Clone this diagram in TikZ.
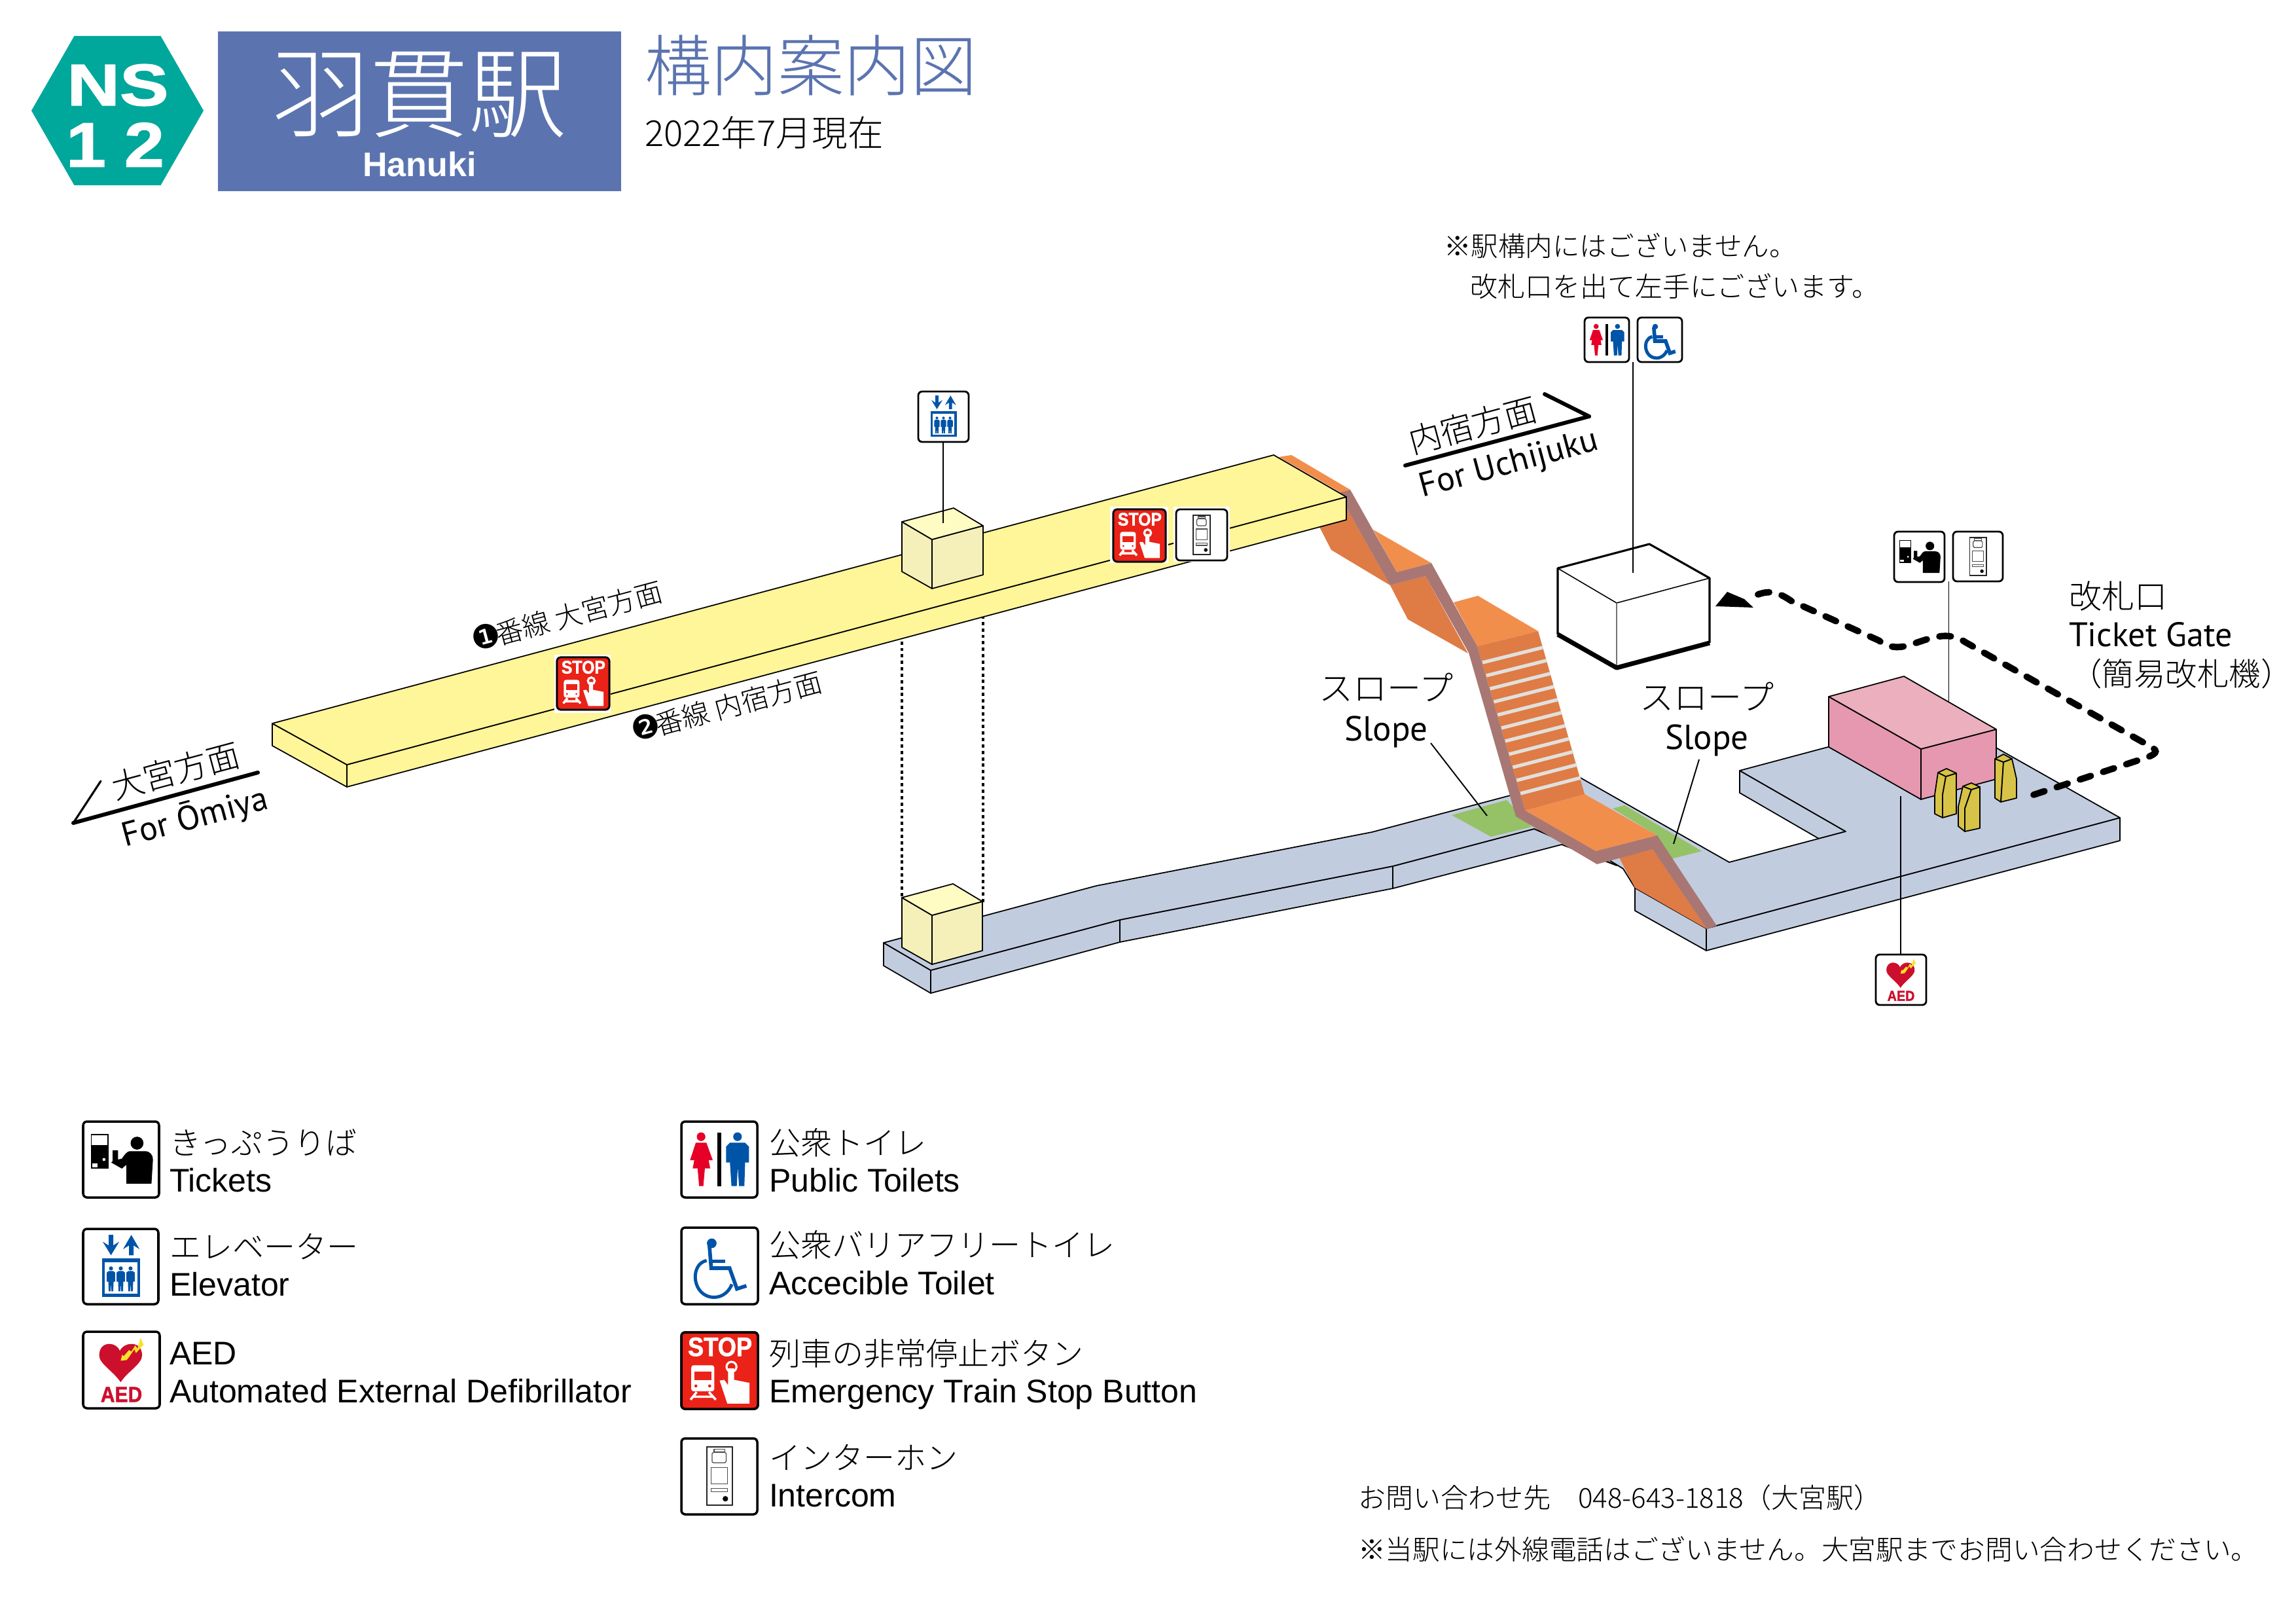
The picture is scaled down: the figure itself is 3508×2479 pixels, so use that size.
\documentclass[tikz,border=0pt]{standalone}
\usepackage{fontspec}
\setmainfont{Liberation Sans}
\newfontfamily\jpf{Noto Sans CJK JP Light}
\newfontfamily\mrf{PT Sans}
\newfontfamily\djf{DejaVu Sans}
\newfontfamily\heavyf[BoldFeatures={FakeBold=1.5}]{Liberation Sans}
\newcommand\pxf[1]{\fontsize{\fpeval{#1*0.28453}}{\fpeval{#1*0.34}}\selectfont}
\definecolor{teal1}{HTML}{00A79B}
\definecolor{navy1}{HTML}{5B74B0}
\definecolor{yel1}{HTML}{FFF599}
\definecolor{box1}{HTML}{FEFBC3}
\definecolor{box2}{HTML}{F5EFBA}
\definecolor{blu1}{HTML}{C2CCDF}
\definecolor{gre1}{HTML}{95C266}
\definecolor{ol}{HTML}{F28E4C}
\definecolor{od}{HTML}{DF7B45}
\definecolor{brn}{HTML}{A87773}
\definecolor{stp}{HTML}{E0E0DC}
\definecolor{pk1}{HTML}{EBAFBE}
\definecolor{pk2}{HTML}{E598AF}
\definecolor{gat}{HTML}{D6C347}
\definecolor{icb}{HTML}{0054A7}
\definecolor{icr}{HTML}{E60027}
\definecolor{aedr}{HTML}{CC0F2D}
\definecolor{aedy}{HTML}{F6E229}
\definecolor{stpr}{HTML}{EA2217}
\tikzset{
  edge/.style={draw=black,line width=0.5pt,line join=round},
  leader/.style={draw=black,line width=0.55pt},
  lbl/.style={inner sep=0pt,outer sep=0pt,align=left,text=black},
  jp/.style={font=\jpf\pxf{#1},text height={#1*0.88*0.28453pt},text depth={#1*0.12*0.28453pt}},
  mr/.style={font=\mrf\pxf{#1},text height={#1*0.72*0.28453pt},text depth=0pt},
  ar/.style={font=\pxf{50},text height=10.2pt,text depth=0pt},
  route/.style={line width=2.8pt,line cap=round,dash pattern=on 5pt off 5.6pt},
  dirline/.style={line width=1.7pt,line cap=round,line join=round},
  dirtail/.style={line width=0.9pt,line cap=round,line join=round},
  dots/.style={line width=1pt,dash pattern=on 1.4pt off 1.4pt},
  iconframe/.style={draw=black,fill=white,rounded corners=1.7pt},
  icontxt/.style={inner sep=0pt,outer sep=0pt,transform shape},
}
\newcommand\icTickets{
  \fill (10,16.5) rectangle (33.5,62);
  \fill[white] (11.5,18.5) rectangle (32,31);
  \fill[white] (12,55.5) rectangle (19,60);
  \fill[white] (27.5,50) circle (2);
  \fill (71,28.5) circle (8.5);
  \fill (57,82) -- (90,82) -- (92,50) .. controls (92,44) and (88,39) .. (81,39) -- (62,39) .. controls (58,39) and (55,43) .. (51,49) -- (46,50) -- (46,38) -- (39,38) -- (39,52) -- (37,54) -- (51,62) -- (57,57) -- cycle;
}
\newcommand\icPerson[1]{
  \fill[icb] (#1,52.5) circle (2.7);
  \fill[icb] (#1-5.5,58) -- (#1-3,56) -- (#1+3,56) -- (#1+5.5,58) -- (#1+5.5,70) -- (#1+3.5,70) -- (#1+3,83) -- (#1+.6,83) -- (#1,72) -- (#1-.6,83) -- (#1-3,83) -- (#1-3.5,70) -- (#1-5.5,70) -- cycle;
}
\newcommand\icElevator{
  \fill[icb] (34,8) -- (40,8) -- (40,22) -- (48,17) -- (37,35) -- (26,17) -- (34,22) -- cycle;
  \fill[icb] (61,35) -- (67,35) -- (67,22) -- (75,27) -- (64,8) -- (53,27) -- (61,22) -- cycle;
  \fill[icb] (25,39) rectangle (76,90);
  \fill[white] (29,44) rectangle (72,86);
  \icPerson{37}\icPerson{50}\icPerson{63}
}
\newcommand\icAED{
  \fill[aedr] (49,66) .. controls (40,52) and (21,42) .. (21,31) .. controls (21,20) and (28,16) .. (34,16) .. controls (41,16) and (46,20) .. (48,25) .. controls (51,19) and (57,16) .. (63,16) .. controls (72,16) and (77,22) .. (77,31) .. controls (77,42) and (58,52) .. (49,66) -- cycle;
  \fill[aedy] (75,8) -- (79,17) -- (69,28) -- (67,23) -- (60,33) -- (57,37) -- (49,38) -- (51,30) -- (53,32) -- (60,24) -- (63,26) -- (68,18) -- (71,22) -- cycle;
  \node[icontxt,text=aedr,font=\heavyf\bfseries\pxf{27}] (t) at (50,82) {\scalebox{.95}[1.05]{AED}};
}
\newcommand\icToilets{
  \fill (47.4,15) rectangle (53,85);
  \fill[icr] (26,20) circle (5.7);
  \fill[icr] (19,28) -- (33,28) -- (41.4,51) -- (36,51) -- (38,61.7) -- (31,61.7) -- (29,85) -- (23.4,85) -- (21.4,61.7) -- (15,61.7) -- (17,51) -- (11.4,51) -- cycle;
  \fill[icb] (74,20) circle (5.7);
  \fill[icb] (64,28) -- (84,28) -- (89,33) -- (89,54) -- (84,54) -- (83,85) -- (76,85) -- (74.3,60) -- (73,85) -- (66,85) -- (64,54) -- (59,54) -- (59,33) -- cycle;
}
\newcommand\icWheel{
  \fill[icb] (39.7,20.5) circle (6.3);
  \draw[icb,line width=1.6pt,line join=miter] (36.5,22) -- (39,53) -- (63,53) -- (72.6,80) -- (85,76);
  \draw[icb,line width=1.4pt] (39,44) -- (57,44);
  \draw[icb,line width=1.4pt] (33,43) .. controls (10,48) and (14,91) .. (43,91) .. controls (55,91) and (63,82) .. (66,74);
}
\newcommand\icStop{
  \draw[iconframe,fill=stpr] (0,0) rectangle (100,100);
  \node[icontxt,text=white,font=\heavyf\bfseries\pxf{31}] (t) at (50.5,19) {\scalebox{1}[1.12]{STOP}};
  \fill[white,rounded corners=1pt] (13,43) rectangle (43,77);
  \fill[stpr] (17,51) rectangle (39,62);
  \fill[stpr] (19,70) circle (2) (37,70) circle (2);
  \draw[white,line width=1pt] (20,78) -- (12,88) (36,78) -- (45,88) (16,84) -- (41,84);
  \fill[white] (50,63) -- (56,62) -- (61,69) -- (61,47) -- (69,47) -- (69,62) -- (89,66) -- (89,93) -- (60,93) -- cycle;
  \draw[white,line width=0.9pt] (65.5,45) circle (6.5);
}
\newcommand\icIntercom{
  \draw[black!85,line width=0.5pt] (33.4,11.5) rectangle (67,88);
  \draw[black!70,line width=0.35pt] (43,14) rectangle (57,17.5);
  \draw[black!70,line width=0.35pt,rounded corners=0.5pt] (40.5,18.5) rectangle (59,32);
  \draw[black!70,line width=0.35pt] (39,38.5) rectangle (61,60);
  \draw[black!70,line width=0.35pt] (39,66) rectangle (61,70.5);
  \fill (58,79.5) circle (3.6);
}
% \myicon{name}{type}{x0}{y0}{size}{frame width}
\newcommand\myicon[6]{
  \begin{scope}[shift={(#3,#4)},xscale=#5/100,yscale=#5/100,name prefix=#1-,
     iconframe/.append style={line width=#6}]
    \draw[iconframe] (0,0) rectangle (100,100);
    \csname ic#2\endcsname
  \end{scope}
}
\begin{document}
\begin{tikzpicture}[x=0.01cm,y=-0.01cm]
\useasboundingbox (0,0) rectangle (3508,2479);
\fill[white] (0,0) rectangle (3508,2479);
% ---------- header
\fill[teal1] (113.5,55) -- (245.5,55) -- (311,169) -- (245.5,283) -- (113.5,283) -- (48,169) -- cycle;
\node[inner sep=0pt,text=white,font=\heavyf\bfseries\pxf{90}] (nsmark) at (180,130) {\scalebox{1.24}[1]{NS}};
\node[inner sep=0pt,text=white,font=\heavyf\bfseries\pxf{96}] (nomark) at (176,221) {\scalebox{1.14}[1]{1\kern 7pt 2}};
\fill[navy1] (333,48) rectangle (949,292);
\node[inner sep=0pt,text=white,font=\jpf\pxf{150}] (title) at (641,145) {羽貫駅};
\node[inner sep=0pt,text=white,font=\bfseries\pxf{52}] (titleen) at (641,251) {Hanuki};
\node[lbl,anchor=west,text=navy1,jp=101.5] (guide) at (985,100) {構内案内図};
\node[lbl,anchor=west,jp=54.6] (date) at (985,203) {2022年7月現在};
% ---------- notes near toilets
\node[lbl,anchor=west,jp=41.5] (note1) at (2206,376) {※駅構内にはございません。};
\node[lbl,anchor=west,jp=42] (note2) at (2246,438) {改札口を出て左手にございます。};
% ---------- dotted shaft
\coordinate (dl1t) at (1378,960);
\coordinate (dl1b) at (1378,1372);
\coordinate (dl2t) at (1502,940);
\coordinate (dl2b) at (1502,1378);
\draw[dots] (dl1t) -- (dl1b);
\draw[dots] (dl2t) -- (dl2b);
% ---------- concourse
\path[edge,fill=blu1] (1350,1440) -- (1422,1482) -- (1422,1517) -- (1350,1475) -- cycle;
\path[edge,fill=blu1] (1422,1482) -- (1711,1405) -- (1711,1439) -- (1422,1517) -- cycle;
\path[edge,fill=blu1] (1711,1405) -- (2128,1323) -- (2128,1357) -- (1711,1439) -- cycle;
\path[edge,fill=blu1] (2128,1323) -- (2344,1266) -- (2470,1322) -- (2386,1290) -- (2128,1357) -- cycle;
\path[edge,fill=blu1] (2658,1177) -- (2820,1270) -- (2779,1281) -- (2658,1211) -- cycle;
\path[edge,fill=blu1] (2498,1356) -- (2607,1418) -- (2607,1452) -- (2498,1391) -- cycle;
\path[edge,fill=blu1] (2607,1418) -- (3239,1249) -- (3239,1284) -- (2607,1452) -- cycle;
\path[edge,fill=blu1] (1350,1440) -- (1675,1353) -- (2096,1271) -- (2413,1187) -- (2642,1317) -- (2820,1270) -- (2658,1177) -- (2793,1141) -- (3000,1114) -- (3239,1249) -- (2607,1418) -- (2498,1356) -- (2480,1327) -- (2459,1314) -- (2344,1266) -- (2128,1323) -- (1711,1405) -- (1422,1482) -- cycle;
% slopes
\fill[gre1] (2218,1245) -- (2302,1222) -- (2340,1263) -- (2278,1278) -- cycle;
\fill[gre1] (2464,1235) -- (2482,1230) -- (2600,1300) -- (2553,1312) -- (2532,1276) -- cycle;
% lower lift box
\path[edge,fill=box2] (1378,1371) -- (1424,1398) -- (1424,1473) -- (1378,1447) -- cycle;
\path[edge,fill=box2] (1424,1398) -- (1501,1377) -- (1501,1452) -- (1424,1473) -- cycle;
\path[edge,fill=box1] (1378,1371) -- (1456,1350) -- (1501,1377) -- (1424,1398) -- cycle;
% ---------- stairs
\fill[od] (2015,803) -- (2034,840) -- (2124,894) -- (2057,775) -- (2057,794) -- cycle;
\fill[od] (2124,894) -- (2151,946) -- (2243,998) -- (2178,880) -- cycle;
\fill[od] (2474,1310) -- (2498,1356) -- (2608,1419) -- (2525,1297) -- cycle;
\fill[ol] (1954,698) -- (1973,695) -- (2063,748) -- (2048,752) -- cycle;
\fill[ol] (2098,809) -- (2187,860) -- (2134,874) -- cycle;
\fill[ol] (2221,920) -- (2258,910) -- (2350,964) -- (2257,987) -- cycle;
\fill[ol] (2330,1238) -- (2421,1213) -- (2532,1276) -- (2438,1300) -- cycle;
\fill[od] (2257,987) -- (2350,964) -- (2421,1213) -- (2330,1238) -- cycle;
\foreach \i in {0,...,10}{
  \draw[stp,line width=1.5pt] (2265+5.8*\i,1012+20*\i) -- (2357+5.8*\i,989+19.9*\i);
}
\fill[brn] (2063,748) -- (2134,874) -- (2187,860) -- (2257,987) -- (2330,1238) -- (2438,1300) -- (2532,1276) -- (2623,1414) -- (2608,1419) -- (2525,1297) -- (2440,1320) -- (2316,1247) -- (2244,997) -- (2178,880) -- (2124,894) -- (2057,775) -- (2048,752) -- cycle;
% ---------- platform
\path[edge,fill=yel1] (416,1105) -- (530,1168) -- (530,1202) -- (416,1139) -- cycle;
\path[edge,fill=yel1] (530,1168) -- (2057,759) -- (2057,794) -- (530,1202) -- cycle;
\path[edge,fill=yel1] (416,1105) -- (1946,695) -- (2057,759) -- (530,1168) -- cycle;
% upper lift box
\path[edge,fill=box2] (1378,797) -- (1424,824) -- (1424,899) -- (1378,873) -- cycle;
\path[edge,fill=box2] (1424,824) -- (1502,803) -- (1502,878) -- (1424,899) -- cycle;
\path[edge,fill=box1] (1378,797) -- (1457,776) -- (1502,803) -- (1424,824) -- cycle;
% ---------- ticket gate
\path[edge,fill=pk2] (2794,1064) -- (2935,1144) -- (2935,1221) -- (2794,1141) -- cycle;
\path[edge,fill=pk2] (2935,1144) -- (3050,1114) -- (3050,1190) -- (2935,1221) -- cycle;
\path[edge,fill=pk1] (2794,1064) -- (2909,1033) -- (3050,1114) -- (2935,1144) -- cycle;
% gates
\path[edge,fill=gat] (2961,1180) -- (2973,1186) -- (2968,1214) -- (2968,1249) -- (2956,1243) -- (2956,1214) -- cycle;
\path[edge,fill=gat] (2973,1186) -- (2989,1181) -- (2989,1243) -- (2968,1249) -- (2968,1214) -- cycle;
\path[edge,fill=gat] (2961,1180) -- (2974,1174) -- (2989,1181) -- (2973,1186) -- cycle;
\path[edge,fill=gat] (2999,1201) -- (3012,1206) -- (3002,1235) -- (3002,1270) -- (2992,1262) -- (2992,1232) -- cycle;
\path[edge,fill=gat] (3012,1206) -- (3025,1202) -- (3025,1265) -- (3002,1270) -- (3002,1235) -- cycle;
\path[edge,fill=gat] (2999,1201) -- (3012,1196) -- (3025,1202) -- (3012,1206) -- cycle;
\path[edge,fill=gat] (3048,1159) -- (3061,1164) -- (3057,1225) -- (3048,1219) -- cycle;
\path[edge,fill=gat] (3061,1164) -- (3074,1159) -- (3081,1190) -- (3081,1219) -- (3057,1225) -- cycle;
\path[edge,fill=gat] (3048,1159) -- (3061,1152) -- (3074,1159) -- (3061,1164) -- cycle;
% ---------- toilet box
\fill[white] (2380,868) -- (2520,831) -- (2612,883) -- (2612,982) -- (2470,1020) -- (2380,969) -- cycle;
\draw[line width=0.45pt] (2380,868) -- (2470,921) -- (2612,883);
\draw[line width=0.45pt,black!55] (2470,921) -- (2470,1020);
\draw[line width=0.9pt,line join=round] (2380,969) -- (2380,868) -- (2520,831) -- (2612,883) -- (2612,982);
\draw[line width=2pt,line join=round] (2380,969) -- (2470,1020) -- (2612,982);
% ---------- route
\draw[route] (3107,1214) -- (3280,1157) .. controls (3298,1150) and (3298,1146) .. (3280,1137) -- (3003,981) .. controls (2975,962) and (2950,975) .. (2915,986) .. controls (2895,991) and (2885,988) .. (2870,978) -- (2737,918) .. controls (2712,901) and (2700,902) .. (2678,911);
\fill (2621,926) -- (2639,904) -- (2665,915) -- (2679,928) -- cycle;
% ---------- icons on map
\myicon{mapelev}{Elevator}{1403}{598}{77}{0.8pt}
\coordinate (elevdrop) at (1441,675);
\coordinate (elevend) at (1441,799);
\draw[leader] (elevdrop) -- (elevend);
\fill[white] (1696,774) rectangle (1785,860);
\fill[white] (1793,774) rectangle (1879,858);
\fill[white] (847,1000) rectangle (933,1089);
\myicon{mapstopa}{Stop}{851}{1004}{80}{0.8pt}
\myicon{mapstopb}{Stop}{1701}{778}{80}{0.8pt}
\myicon{mapinta}{Intercom}{1797}{778}{78}{0.8pt}
\myicon{maptoil}{Toilets}{2421}{485}{68}{0.8pt}
\myicon{mapwc}{Wheel}{2502}{485}{68}{0.8pt}
\coordinate (wcdrop) at (2495,553);
\coordinate (wcend) at (2495,875);
\draw[leader] (wcdrop) -- (wcend);
\myicon{maptick}{Tickets}{2894}{812}{77}{0.8pt}
\myicon{mapintb}{Intercom}{2984}{812}{76}{0.8pt}
\coordinate (tickdrop) at (2977.5,888);
\coordinate (tickend) at (2977.5,1071);
\draw[leader] (tickdrop) -- (tickend);
\myicon{mapaed}{AED}{2866}{1458}{77}{0.8pt}
\coordinate (aeddrop) at (2904,1216);
\coordinate (aedend) at (2904,1458);
\draw[leader] (aeddrop) -- (aedend);
% ---------- slope labels
\node[lbl,align=center,jp=52] (sl1j) at (2118,1051) {スロープ};
\node[lbl,align=center,mr=53] (sl1e) at (2118,1112) {Slope};
\node[lbl,align=center,jp=52] (sl2j) at (2608,1065) {スロープ};
\node[lbl,align=center,mr=53] (sl2e) at (2608,1125) {Slope};
\coordinate (sl1a) at (2186,1135);
\coordinate (sl1b) at (2272,1246);
\coordinate (sl2a) at (2596,1160);
\coordinate (sl2b) at (2557,1289);
\draw[leader] (sl1a) -- (sl1b);
\draw[leader] (sl2a) -- (sl2b);
% ---------- gate label
\node[lbl,anchor=west,jp=50] (g1) at (3161,910) {改札口};
\node[lbl,anchor=west,mr=52] (g2) at (3161,969) {Ticket Gate};
\node[lbl,anchor=west,jp=48.5] (g3) at (3163,1029) {（簡易改札機）};
% ---------- direction labels
\coordinate (omA) at (394,1180);
\coordinate (omB) at (112,1257);
\coordinate (omC) at (154,1193);
\draw[dirtail] (omC) -- (omB);
\draw[dirline] (omA) -- (omB);
\node[lbl,rotate=15,jp=50] (om1) at (268,1177) {大宮方面};
\node[lbl,rotate=15,mr=52] (om2) at (297,1246) {For Ōmiya};
\coordinate (uA) at (2147,711);
\coordinate (uB) at (2428,636);
\coordinate (uC) at (2360,602);
\draw[dirline] (uA) -- (uB);
\draw[dirline] (uB) -- (uC);
\node[lbl,rotate=15,jp=50] (u1) at (2250,649) {内宿方面};
\node[lbl,rotate=15,mr=52] (u2) at (2304,705) {For Uchijuku};
\node[lbl,rotate=15,font=\jpf\pxf{42}] (tr1) at (866,940) {{\djf\pxf{50}❶}\kern-2pt 番線 大宮方面};
\node[lbl,rotate=15,font=\jpf\pxf{42}] (tr2) at (1110,1078) {{\djf\pxf{50}❷}\kern-2pt 番線 内宿方面};
% ---------- legend
\myicon{l1}{Tickets}{127}{1713}{116}{1pt}
\myicon{l2}{Elevator}{127}{1877}{115}{1pt}
\myicon{l3}{AED}{127}{2034}{117}{1pt}
\myicon{r1}{Toilets}{1041}{1713}{116}{1pt}
\myicon{r2}{Wheel}{1041}{1875}{117}{1pt}
\myicon{r3}{Stop}{1041}{2035}{117}{1pt}
\myicon{r4}{Intercom}{1041}{2197}{116}{1pt}
\node[lbl,anchor=west,jp=48] (a1) at (259,1745) {きっぷうりば};
\node[lbl,anchor=west,ar] (a2) at (259,1803) {Tickets};
\node[lbl,anchor=west,jp=48] (b1) at (259,1904) {エレベーター};
\node[lbl,anchor=west,ar] (b2) at (259,1962) {Elevator};
\node[lbl,anchor=west,ar] (c1) at (259,2067) {AED};
\node[lbl,anchor=west,ar] (c2) at (259,2125) {Automated External Defibrillator};
\node[lbl,anchor=west,jp=48] (d1) at (1175,1745) {公衆トイレ};
\node[lbl,anchor=west,ar] (d2) at (1175,1803) {Public Toilets};
\node[lbl,anchor=west,jp=48] (e1) at (1175,1901) {公衆バリアフリートイレ};
\node[lbl,anchor=west,ar] (e2) at (1175,1960) {Accecible Toilet};
\node[lbl,anchor=west,jp=48] (f1) at (1175,2067) {列車の非常停止ボタン};
\node[lbl,anchor=west,ar] (f2) at (1175,2125) {Emergency Train Stop Button};
\node[lbl,anchor=west,jp=48] (h1) at (1175,2226) {インターホン};
\node[lbl,anchor=west,ar] (h2) at (1175,2284) {Intercom};
% ---------- footer
\node[lbl,anchor=west,jp=42] (foot1) at (2075,2288) {お問い合わせ先　048-643-1818（大宮駅）};
\node[lbl,anchor=west,jp=41.7] (foot2) at (2075,2367) {※当駅には外線電話はございません。大宮駅までお問い合わせください。};
\end{tikzpicture}
\end{document}
